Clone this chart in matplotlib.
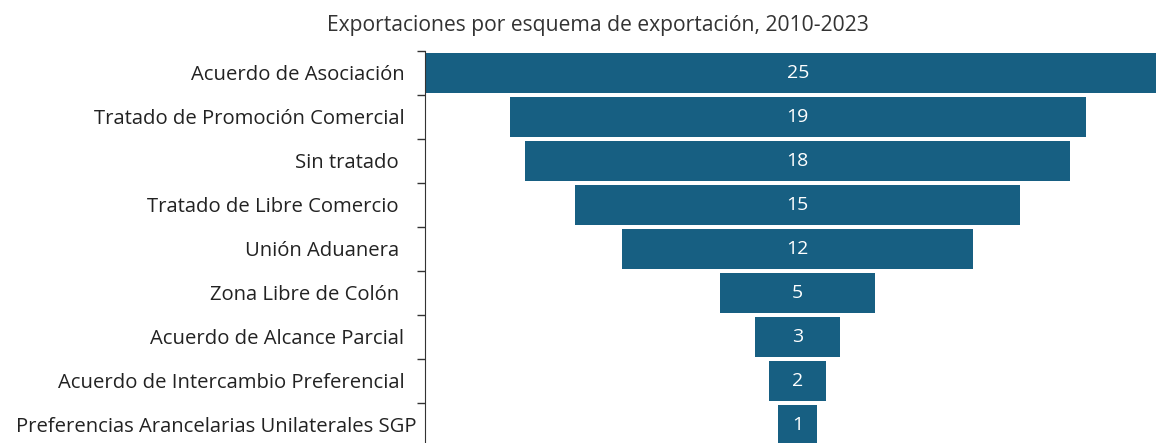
import matplotlib
matplotlib.use("Agg")
import matplotlib.pyplot as plt
import matplotlib.transforms as mtransforms
import numpy as np

# Datos (miles de millones USD, estimados del gráfico)
esquemas = ['Acuerdo de Asociación', 'Tratado de Promoción Comercial', 'Sin tratado ',
            'Tratado de Libre Comercio ', 'Unión Aduanera ', 'Zona Libre de Colón ',
            'Acuerdo de Alcance Parcial', 'Acuerdo de Intercambio Preferencial',
            'Preferencias Arancelarias Unilaterales SGP']
valores = [24.6, 19.0, 18.0, 14.7, 11.6, 5.1, 2.8, 1.9, 1.3]

color_barra = '#175f82'
plt.rcParams['font.family'] = ['Open Sans', 'DejaVu Sans']

W, H = 1156, 443
fig = plt.figure(figsize=(W / 100, H / 100), dpi=100)

# ejes: spine izquierdo en x=425 px, filas de 44 px desde y=51
ax = fig.add_axes([425 / W, (H - 447) / H, (W - 425) / W, (447 - 51) / H])

n = len(valores)
y = np.arange(n)
v = np.array(valores)
ax.barh(y, v, left=-v / 2, height=0.93, color=color_barra)

for yi, vi in zip(y, v):
    ax.text(0, yi, f'{vi:.0f}', ha='center', va='center', color='white', fontsize=14)

escala = 30.3  # px por unidad
ax.set_xlim(-v[0] / 2, -v[0] / 2 + (W - 425) / escala)
ax.set_ylim(n - 0.5, -0.5)

# marcas en los límites de cada categoría, etiquetas al centro
ax.set_yticks(np.arange(n + 1) - 0.5)
ax.set_yticklabels([])
ax.tick_params(axis='y', which='major', length=6, width=1, color='#333333')
ax.set_yticks(y, minor=True)
ax.set_yticklabels(esquemas, minor=True, fontsize=14.6, color='#222222')
ax.tick_params(axis='y', which='minor', length=0, pad=15)

# la etiqueta más larga queda algo más a la derecha en el original
lbls = ax.get_yticklabels(minor=True)
lbls[-1].set_transform(lbls[-1].get_transform() +
                       mtransforms.ScaledTranslation(12 / 100, 0, fig.dpi_scale_trans))

ax.set_xticks([])
for s in ['top', 'right', 'bottom']:
    ax.spines[s].set_visible(False)
ax.spines['left'].set_color('#333333')

fig.text(598 / W, 1 - 25 / H, 'Exportaciones por esquema de exportación, 2010-2023',
         ha='center', va='center', fontsize=15.2, color='#333333')

fig.savefig('out.png', dpi=100)
